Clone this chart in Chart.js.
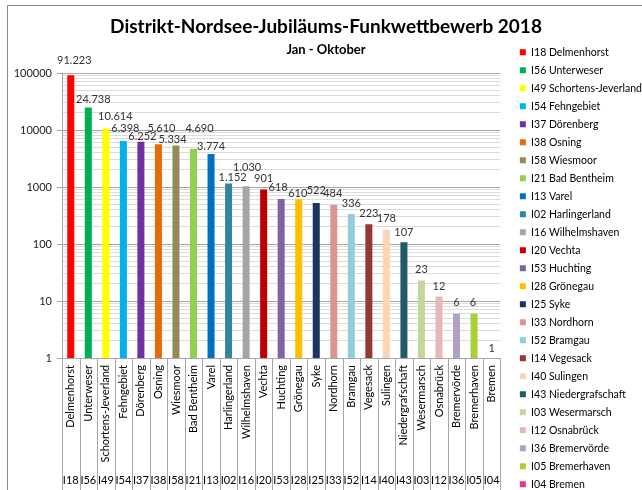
<!DOCTYPE html>
<html>
<head>
<meta charset="utf-8">
<title>Distrikt-Nordsee-Jubiläums-Funkwettbewerb 2018</title>
<script src="https://cdn.jsdelivr.net/npm/chart.js@4.4.1/dist/chart.umd.min.js"></script>
<style>
  html, body { margin: 0; padding: 0; background: #fff; overflow: hidden; }
  #wrap { position: relative; width: 642px; height: 490px; overflow: hidden; }
  #chart { position: absolute; left: 0; top: 0; }
</style>
</head>
<body>
<div id="wrap"><canvas id="chart"></canvas></div>
<script>
const codes = ['I18', 'I56', 'I49', 'I54', 'I37', 'I38', 'I58', 'I21', 'I13', 'I02', 'I16', 'I20', 'I53',
  'I28', 'I25', 'I33', 'I52', 'I14', 'I40', 'I43', 'I03', 'I12', 'I36', 'I05', 'I04'];
const districts = ['Delmenhorst', 'Unterweser', 'Schortens-Jeverland', 'Fehngebiet', 'Dörenberg', 'Osning',
  'Wiesmoor', 'Bad Bentheim', 'Varel', 'Harlingerland', 'Wilhelmshaven', 'Vechta', 'Huchting', 'Grönegau',
  'Syke', 'Nordhorn', 'Bramgau', 'Vegesack', 'Sulingen', 'Niedergrafschaft', 'Wesermarsch', 'Osnabrück',
  'Bremervörde', 'Bremerhaven', 'Bremen'];
const contacts = [91223, 24738, 10614, 6398, 6252, 5610, 5334, 4690, 3774, 1152, 1030, 901, 618,
  610, 522, 484, 336, 223, 178, 107, 23, 12, 6, 6, 1];
const barColors = ['#FF0000', '#00B050', '#FFFF00', '#00B0F0', '#7030A0', '#E46C0A', '#948A54', '#92D050',
  '#0070C0', '#31859C', '#A5A5A5', '#C00000', '#8064A2', '#FFC000', '#17375E', '#DA9694', '#92CDDC',
  '#953735', '#FCD5B4', '#215968', '#C4D79B', '#E6B8B7', '#B1A0C7', '#A9D134', '#E6348F'];
const yLabelValues = [1, 10, 100, 1000, 10000, 100000];

// small nudges (px) so the value labels sit where Excel put them
const labelShiftX = [3.5, 5, 9.5, 2, 1.5, 3, -3.5, 6, 0, 4, 1, 0, -3, -1, 0, -1, 0, 0, 0, 0, 0, 0, 0, -1, 0];
const labelShiftY = [-4, 2.5, -1.5, -2, 6, -5, 4.5, -9, 3, 4.5, -8, 0, 0, 5, -2, -1, 0, 0, 0, 1, 0, 0.5, 0, 0, 1];

// grid lines at 1..9 of every decade
const gridValues = [];
for (let d = 1; d < 100000; d *= 10) {
    for (let m = 1; m < 10; m++) gridValues.push(m * d);
}
gridValues.push(100000);

const isDecade = v => yLabelValues.includes(v);
const formatDE = n => String(n).replace(/\B(?=(\d{3})+(?!\d))/g, '.');
const legendTexts = codes.map((c, i) => c + ' ' + districts[i]);

Chart.defaults.font.family = 'Lato';

const legendFontSize = 10.5;

// canvas is a bit wider than the window, the legend runs off the right edge like in the original
const measure = document.createElement('canvas').getContext('2d');
measure.font = legendFontSize + 'px Lato';
const legendTextWidth = Math.max(...legendTexts.map(t => measure.measureText(t).width));
const canvas = document.getElementById('chart');
canvas.width = Math.ceil(512 + 7 + 6 + legendFontSize / 2 + legendTextWidth + 10);
canvas.height = 500;

const framePlugin = {
    id: 'frame',
    beforeDraw(chart) {
        const ctx = chart.ctx;
        ctx.save();
        ctx.fillStyle = '#fff';
        ctx.fillRect(0, 0, chart.width, chart.height);
        ctx.strokeStyle = '#8c8c8c';
        ctx.lineWidth = 1;
        ctx.beginPath();
        ctx.moveTo(7.5, chart.height);
        ctx.lineTo(7.5, 5.5);
        ctx.lineTo(chart.width, 5.5);
        ctx.stroke();
        ctx.restore();
    }
};

// vertical separators below the axis (multi-level category look)
const separatorPlugin = {
    id: 'separators',
    afterDraw(chart) {
        const x = chart.scales.x;
        const {ctx, chartArea} = chart;
        const half = (x.getPixelForValue(1) - x.getPixelForValue(0)) / 2;
        ctx.save();
        ctx.strokeStyle = '#a6a6a6';
        ctx.lineWidth = 1;
        ctx.beginPath();
        for (let i = 0; i <= districts.length; i++) {
            const px = Math.round(x.getPixelForValue(i) - half) + 0.5;
            ctx.moveTo(px, chartArea.bottom);
            ctx.lineTo(px, chart.height);
        }
        ctx.stroke();
        ctx.restore();
    }
};

const valueLabelPlugin = {
    id: 'valueLabels',
    afterDatasetsDraw(chart) {
        const meta = chart.getDatasetMeta(0);
        const ctx = chart.ctx;
        ctx.save();
        ctx.font = '11px Lato';
        ctx.fillStyle = '#333';
        ctx.textAlign = 'center';
        ctx.textBaseline = 'middle';
        meta.data.forEach((bar, i) => {
            ctx.fillText(formatDE(contacts[i]), bar.x + labelShiftX[i], bar.y - 11 + labelShiftY[i]);
        });
        ctx.restore();
    }
};

new Chart(canvas, {
    type: 'bar',
    data: {
        labels: districts,
        datasets: [{
            label: 'Funkkontakte',
            data: contacts,
            backgroundColor: barColors,
            borderWidth: 0,
            barPercentage: 0.4,
            categoryPercentage: 1
        }]
    },
    options: {
        responsive: false,
        animation: false,
        layout: { padding: { top: 0, left: 0, right: 0, bottom: 3 } },
        plugins: {
            title: {
                display: true,
                text: 'Distrikt-Nordsee-Jubiläums-Funkwettbewerb 2018',
                color: '#000',
                font: { family: 'Lato', size: 19, weight: 'bold' },
                padding: { top: 15, bottom: 0 }
            },
            subtitle: {
                display: true,
                text: 'Jan - Oktober',
                color: '#000',
                font: { family: 'Lato', size: 13, weight: 'bold' },
                padding: { top: 4.4, bottom: 15.2 }
            },
            legend: {
                position: 'right',
                align: 'end',
                maxWidth: 260,
                labels: {
                    font: { family: 'Lato', size: legendFontSize },
                    color: '#000',
                    boxWidth: 6,
                    boxHeight: 6,
                    padding: 18 - legendFontSize,
                    generateLabels: () => legendTexts.map((t, i) => ({
                        text: t,
                        fillStyle: barColors[i],
                        strokeStyle: barColors[i],
                        lineWidth: 0,
                        hidden: false,
                        index: i
                    }))
                }
            },
            tooltip: { enabled: false }
        },
        scales: {
            x: {
                weight: 0,
                grid: { display: false, drawTicks: false },
                border: { color: '#a6a6a6' },
                ticks: {
                    autoSkip: false,
                    minRotation: 90,
                    maxRotation: 90,
                    padding: 7,
                    color: '#000',
                    font: { family: 'Lato', size: 11 }
                },
                afterFit: s => { s.height = 112; }
            },
            x2: {
                type: 'category',
                labels: codes,
                position: 'bottom',
                weight: 1,
                grid: { display: false, drawTicks: false },
                border: { display: false },
                ticks: {
                    autoSkip: false,
                    maxRotation: 0,
                    padding: 4,
                    color: '#000',
                    font: { family: 'Lato', size: 11 }
                },
                afterFit: s => { s.height = 27; }
            },
            y: {
                type: 'logarithmic',
                min: 1,
                max: 100000,
                afterBuildTicks: scale => { scale.ticks = gridValues.map(v => ({ value: v })); },
                afterFit: s => { s.width = 62; },
                ticks: {
                    autoSkip: false,
                    padding: 5,
                    color: '#222',
                    font: { family: 'Lato', size: 11 },
                    callback: v => isDecade(v) ? String(v) : ''
                },
                grid: {
                    color: c => (c.tick && isDecade(c.tick.value)) ? '#a6a6a6' : '#dcdcdc',
                    tickColor: c => (c.tick && isDecade(c.tick.value)) ? '#a6a6a6' : 'rgba(0,0,0,0)',
                    tickLength: 5
                },
                border: { color: '#a6a6a6' }
            },
            yPad: {
                type: 'linear',
                position: 'right',
                grid: { display: false, drawTicks: false },
                border: { display: false },
                ticks: { display: false },
                afterFit: s => { s.width = 12; }
            }
        }
    },
    plugins: [framePlugin, separatorPlugin, valueLabelPlugin]
});
</script>
</body>
</html>
